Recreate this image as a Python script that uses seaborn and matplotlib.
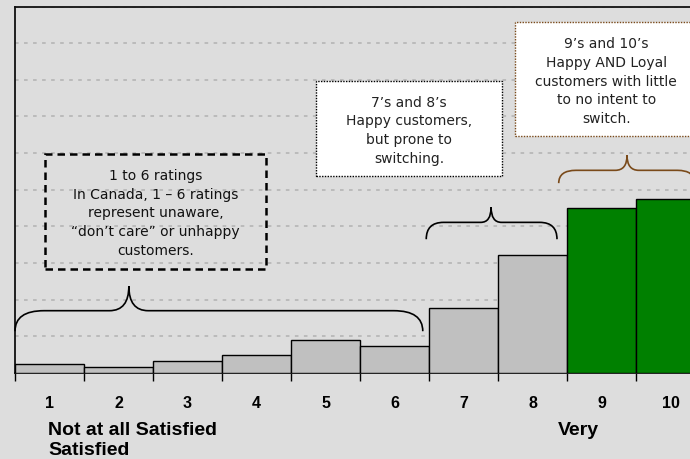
import matplotlib
matplotlib.use("Agg")
import matplotlib.pyplot as plt
import seaborn as sns
import numpy as np
from matplotlib.path import Path
from matplotlib.patches import PathPatch, Rectangle

# ---- data ----
ratings = ["1", "2", "3", "4", "5", "6", "7", "8", "9", "10"]
values = [2.5, 1.7, 3.4, 4.8, 9.0, 7.4, 17.6, 32.2, 45.0, 47.4]
bar_colors = ["#C0C0C0"] * 8 + ["#008000"] * 2
box1_text = "1 to 6 ratings\nIn Canada, 1 \u2013 6 ratings\nrepresent unaware,\n\u201cdon\u2019t care\u201d or unhappy\ncustomers."
box2_text = "7\u2019s and 8\u2019s\nHappy customers,\nbut prone to\nswitching."
box3_text = "9\u2019s and 10\u2019s\nHappy AND Loyal\ncustomers with little\nto no intent to\nswitch."
left_label = "Not at all Satisfied\nSatisfied"
right_label = "Very"

BG = "#DDDDDD"
sns.set_theme(style="white")
plt.rcParams["font.family"] = ["DejaVu Sans"]

fig = plt.figure(figsize=(6.9, 4.6), dpi=100, facecolor=BG)
W, H = 690, 460
ax_left, ax_right, ax_bot, ax_top = 15, 690, 374, 7.5
ax = fig.add_axes([ax_left / W, (H - ax_bot) / H, (ax_right - ax_left) / W, (ax_bot - ax_top) / H])
ax.set_facecolor(BG)

sns.barplot(x=ratings, y=values, hue=ratings, palette=bar_colors, width=1.0,
            edgecolor="black", linewidth=1.0, saturation=1, legend=False, ax=ax, zorder=3)

ax.set_xlabel("")
ax.set_ylabel("")
ax.set_yticks([])

# grid lines
for g in range(10, 101, 10):
    ax.axhline(g, color="#B8B8B8", lw=1.3, ls=(0, (2, 3)), zorder=1)

# ticks: boundaries (marks) and centers (labels)
ax.set_xticks(np.arange(-0.5, 9.0, 1.0))
ax.set_xticklabels([])
ax.tick_params(axis="x", which="major", direction="out", length=6, width=1, color="black", bottom=True)
ax.set_xticks(np.arange(10), minor=True)
ax.set_xticklabels(ratings, minor=True)
ax.tick_params(axis="x", which="minor", length=0, pad=16, labelsize=11.5, labelcolor="black")
bold_narrow = ["Liberation Sans Narrow", "Liberation Sans", "DejaVu Sans"]
for lbl in ax.get_xticklabels(minor=True):
    lbl.set_fontweight("bold")
    lbl.set_family(bold_narrow)

ax.set_xlim(-0.5, -0.5 + (ax_right - ax_left) / 69.0)
ax.set_ylim(0, 100)

for s in ["left", "bottom", "top"]:
    ax.spines[s].set_visible(True)
    ax.spines[s].set_color("#111111")
    ax.spines[s].set_linewidth(1.3)
ax.spines["right"].set_visible(False)


def brace(ax, x0, x1, xt, ye, yh, yt, rc, rt, color):
    verts = [(x0, ye), (x0, yh), (x0 + rc, yh),
             (xt - rt, yh), (xt, yh), (xt, yt),
             (xt, yh), (xt + rt, yh),
             (x1 - rc, yh), (x1, yh), (x1, ye)]
    codes = [Path.MOVETO, Path.CURVE3, Path.CURVE3,
             Path.LINETO, Path.CURVE3, Path.CURVE3,
             Path.CURVE3, Path.CURVE3,
             Path.LINETO, Path.CURVE3, Path.CURVE3]
    ax.add_patch(PathPatch(Path(verts, codes), fill=False, edgecolor=color, lw=1.2,
                           zorder=4, clip_on=False))


brace(ax, -0.5, 5.41, 1.15, 11.4, 17.0, 23.7, 0.42, 0.28, "black")
brace(ax, 5.46, 7.355, 6.4, 36.5, 41.1, 45.2, 0.25, 0.15, "black")
brace(ax, 7.38, 9.35, 8.37, 51.8, 55.3, 59.4, 0.25, 0.17, "#7A4A1A")

# boxes
ax.add_patch(Rectangle((-0.065, 28.3), 3.205, 31.4, fill=False, edgecolor="black",
                       lw=1.8, ls=(0, (3, 2)), zorder=5))
ax.text(1.54, 43.8, box1_text, ha="center", va="center", fontsize=10,
        linespacing=1.42, color="#111111", zorder=6)

ax.add_patch(Rectangle((3.86, 53.7), 2.70, 25.9, facecolor="white", edgecolor="black",
                       lw=1.0, ls=(0, (1, 1)), zorder=5))
ax.text(5.21, 66.4, box2_text, ha="center", va="center", fontsize=10,
        linespacing=1.42, color="#222222", zorder=6)

ax.add_patch(Rectangle((6.75, 64.6), 2.9, 31.3, facecolor="white", edgecolor="#7A4A1A",
                       lw=1.0, ls=(0, (1, 1)), zorder=5, clip_on=True))
ax.text(8.07, 79.8, box3_text, ha="center", va="center", fontsize=10,
        linespacing=1.42, color="#222222", zorder=6)

# bottom labels
fig.text(48 / W, 1 - 422 / H, left_label, ha="left", va="top", fontsize=14,
         fontweight="bold", family=bold_narrow, linespacing=1.25, color="black")
fig.text(558 / W, 1 - 422 / H, right_label, ha="left", va="top", fontsize=14,
         fontweight="bold", family=bold_narrow, color="black")

fig.savefig("out.png", dpi=100, facecolor=BG)
